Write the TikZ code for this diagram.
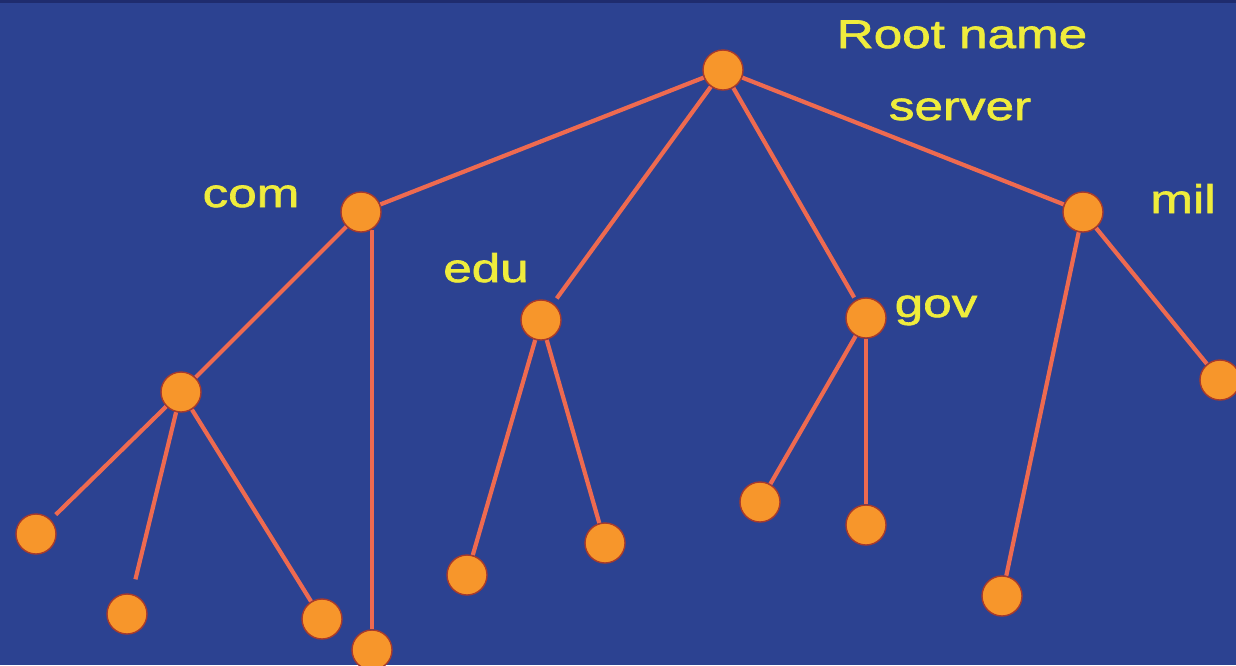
\documentclass[tikz,border=0pt]{standalone}
\usepackage{fontspec}
\usetikzlibrary{backgrounds}
\newfontfamily\lblfont[FakeStretch=1.28,FakeBold=1.6]{Liberation Sans}
\definecolor{bgblue}{HTML}{2C4291}
\definecolor{topband}{HTML}{1F2C6E}
\definecolor{ballfill}{HTML}{F7962B}
\definecolor{ballrim}{HTML}{A83A2C}
\definecolor{linkred}{HTML}{EE6A50}
\definecolor{lblyellow}{HTML}{EFEC3C}
\tikzset{
  ball/.style={circle, fill=ballfill, draw=ballrim, line width=1.4pt,
    minimum size=40pt, inner sep=0pt},
  link/.style={draw=linkred, line width=4.2pt},
  lbl/.style={text=lblyellow, font=\lblfont\fontsize{40}{48}\selectfont,
    anchor=base, inner sep=0pt},
}
\begin{document}
\begin{tikzpicture}[x=1pt, y=-1pt]
  \useasboundingbox (0,0) rectangle (1236,665);
  \clip (0,0) rectangle (1236,665);

  % tree nodes
  \node[ball] (root) at (723,70) {};
  \node[ball] (com)  at (361,212) {};
  \node[ball] (edu)  at (541,320) {};
  \node[ball] (gov)  at (866,318) {};
  \node[ball] (mil)  at (1083,212) {};
  \node[ball] (c1)   at (181,392) {};
  \node[ball] (cl1)  at (36,534) {};
  \node[ball] (cl2)  at (127,614) {};
  \node[ball] (cl3)  at (322,619) {};
  \node[ball] (cv)   at (372,650) {};
  \node[ball] (el1)  at (467,575) {};
  \node[ball] (el2)  at (605,543) {};
  \node[ball] (gl1)  at (760,502) {};
  \node[ball] (gl2)  at (866,525) {};
  \node[ball] (ml1)  at (1002,596) {};
  \node[ball] (ml2)  at (1220,380) {};

  % backdrop and links, beneath the nodes
  \begin{scope}[on background layer]
    \fill[bgblue] (0,0) rectangle (1236,665);
    \fill[topband] (0,0) rectangle (1236,2.5);
    \path[link] (root) -- (com);
    \path[link, shorten >=6pt] (root) -- (edu);
    \path[link, shorten >=3pt] (root) -- (gov);
    \path[link] (root) -- (mil);
    \path[link] (com) -- (c1);
    \coordinate (comdrop) at (372,230);
    \path[link] (comdrop) -- (cv);
    \path[link, shorten >=7pt] (c1) -- (cl1);
    \path[link, shorten >=15pt] (c1) -- (cl2);
    \path[link] (c1) -- (cl3);
    \path[link] (edu) -- (el1);
    \path[link] (edu) -- (el2);
    \path[link] (gov) -- (gl1);
    \path[link] (gov) -- (gl2);
    \path[link] (mil) -- (ml1);
    \path[link] (mil) -- (ml2);
  \end{scope}

  % labels
  \node[lbl] (rootlbl1) at (962,48) {Root name};
  \node[lbl] (rootlbl2) at (960,120) {server};
  \node[lbl] (comlbl) at (251,207) {com};
  \node[lbl] (edulbl) at (486,282) {edu};
  \node[lbl] (govlbl) at (936,317) {gov};
  \node[lbl] (millbl) at (1183,213) {mil};
\end{tikzpicture}
\end{document}
